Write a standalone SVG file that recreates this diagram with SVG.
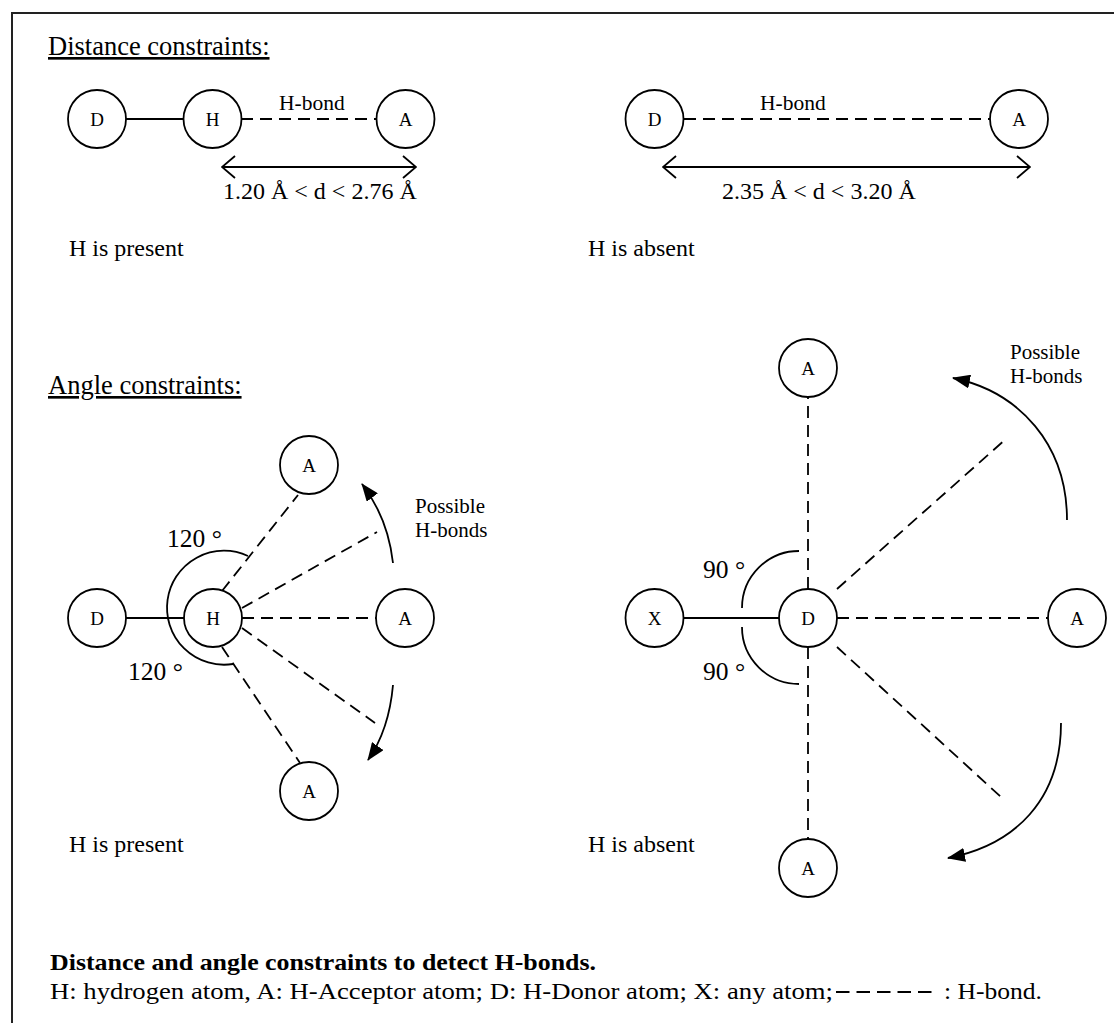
<svg xmlns="http://www.w3.org/2000/svg" width="1114" height="1023" viewBox="0 0 1114 1023">
<defs>
<style>
.t{font-family:"Liberation Serif","Times New Roman",serif;fill:#000}
.atom{fill:#fff;stroke:#000;stroke-width:1.8}
.lbl{font-size:19px;text-anchor:middle}
.solid{stroke:#000;stroke-width:1.8;fill:none}
.dash{stroke:#000;stroke-width:1.8;fill:none;stroke-dasharray:12 7}
.head{font-size:26.5px;text-decoration:underline}
</style>
<marker id="open" markerUnits="userSpaceOnUse" markerWidth="16" markerHeight="26" viewBox="0 0 16 26" refX="15" refY="13" orient="auto-start-reverse">
<path d="M2 2 L15 13 L2 24" fill="none" stroke="#000" stroke-width="1.8"/>
</marker>
<marker id="fill" markerUnits="userSpaceOnUse" markerWidth="18" markerHeight="14" viewBox="0 0 18 14" refX="17" refY="7" orient="auto">
<path d="M0 0 L18 7 L0 14 z" fill="#000"/>
</marker>
</defs>
<rect width="1114" height="1023" fill="#fff"/>
<path d="M12 1023 V13 H1114" fill="none" stroke="#222" stroke-width="2"/>

<text class="t head" x="48" y="55">Distance constraints:</text>
<text class="t head" x="48" y="394">Angle constraints:</text>

<g id="connectors">
<!-- distance present -->
<line class="solid" x1="126" y1="119" x2="184" y2="119"/>
<line class="dash" x1="241" y1="119" x2="377" y2="119"/>
<line class="solid" x1="222" y1="167" x2="416" y2="167" marker-start="url(#open)" marker-end="url(#open)"/>
<!-- distance absent -->
<line class="dash" x1="684" y1="119" x2="990" y2="119"/>
<line class="solid" x1="663" y1="167" x2="1030" y2="167" marker-start="url(#open)" marker-end="url(#open)"/>
<!-- angle present -->
<line class="solid" x1="126" y1="618" x2="184" y2="618"/>
<line class="dash" x1="222" y1="591" x2="298" y2="495"/>
<line class="dash" x1="242" y1="608" x2="377" y2="532"/>
<line class="dash" x1="242" y1="618" x2="376" y2="618"/>
<line class="dash" x1="242" y1="628" x2="375" y2="723"/>
<line class="dash" x1="222" y1="647" x2="300" y2="763"/>
<path class="solid" d="M248 556 A57 57 0 1 0 233 664"/>
<path class="solid" d="M393 563 Q388 518 362 484" marker-end="url(#fill)"/>
<path class="solid" d="M393 685 Q389 730 368 760" marker-end="url(#fill)"/>
<!-- angle absent -->
<line class="solid" x1="683" y1="618" x2="779" y2="618"/>
<line class="dash" x1="808" y1="589" x2="808" y2="397"/>
<line class="dash" x1="808" y1="647" x2="808" y2="839"/>
<line class="dash" x1="837" y1="589" x2="1007" y2="438"/>
<line class="dash" x1="837" y1="618" x2="1048" y2="618"/>
<line class="dash" x1="837" y1="647" x2="1001" y2="797"/>
<path class="solid" d="M799 551 A57 57 0 0 0 742 608"/>
<path class="solid" d="M742 627 A57 57 0 0 0 799 684"/>
<path class="solid" d="M1067 520 C1067 445 1020 392 953 378" marker-end="url(#fill)"/>
<path class="solid" d="M1061 723 C1061 800 1015 845 948 858" marker-end="url(#fill)"/>
</g>

<g id="n-d1"><circle class="atom" cx="97" cy="119" r="29"/><text class="t lbl" x="97" y="126">D</text></g>
<g id="n-h1"><circle class="atom" cx="212.5" cy="119" r="29"/><text class="t lbl" x="212.5" y="126">H</text></g>
<g id="n-a1"><circle class="atom" cx="405.5" cy="119" r="29"/><text class="t lbl" x="405.5" y="126">A</text></g>
<g id="n-d2"><circle class="atom" cx="654.5" cy="119" r="29"/><text class="t lbl" x="654.5" y="126">D</text></g>
<g id="n-a2"><circle class="atom" cx="1019" cy="119" r="29"/><text class="t lbl" x="1019" y="126">A</text></g>

<g id="n-d3"><circle class="atom" cx="97" cy="618" r="29"/><text class="t lbl" x="97" y="625">D</text></g>
<g id="n-h3"><circle class="atom" cx="213" cy="618" r="29"/><text class="t lbl" x="213" y="625">H</text></g>
<g id="n-a3top"><circle class="atom" cx="309" cy="465" r="29"/><text class="t lbl" x="309" y="472">A</text></g>
<g id="n-a3right"><circle class="atom" cx="405" cy="618" r="29"/><text class="t lbl" x="405" y="625">A</text></g>
<g id="n-a3bot"><circle class="atom" cx="309" cy="791" r="29"/><text class="t lbl" x="309" y="798">A</text></g>

<g id="n-x4"><circle class="atom" cx="654.5" cy="618" r="29"/><text class="t lbl" x="654.5" y="625">X</text></g>
<g id="n-d4"><circle class="atom" cx="808" cy="618" r="29"/><text class="t lbl" x="808" y="625">D</text></g>
<g id="n-a4top"><circle class="atom" cx="808" cy="368" r="29"/><text class="t lbl" x="808" y="375">A</text></g>
<g id="n-a4right"><circle class="atom" cx="1077" cy="618" r="29"/><text class="t lbl" x="1077" y="625">A</text></g>
<g id="n-a4bot"><circle class="atom" cx="808" cy="868" r="29"/><text class="t lbl" x="808" y="875">A</text></g>

<g id="labels">
<text class="t" x="279" y="110" font-size="21.5">H-bond</text>
<text class="t" x="760" y="110" font-size="21.5">H-bond</text>
<text class="t" x="223" y="199" font-size="24">1.20 Å &lt; d &lt; 2.76 Å</text>
<text class="t" x="722" y="199" font-size="24">2.35 Å &lt; d &lt; 3.20 Å</text>
<text class="t" x="69" y="256" font-size="24">H is present</text>
<text class="t" x="588" y="256" font-size="24">H is absent</text>
<text class="t" x="167" y="547" font-size="25.5">120 °</text>
<text class="t" x="128" y="680" font-size="25.5">120 °</text>
<text class="t" x="415" y="513" font-size="21">Possible</text>
<text class="t" x="415" y="537" font-size="21">H-bonds</text>
<text class="t" x="1010" y="359" font-size="21">Possible</text>
<text class="t" x="1010" y="383" font-size="21">H-bonds</text>
<text class="t" x="703" y="578" font-size="25.5">90 °</text>
<text class="t" x="703" y="680" font-size="25.5">90 °</text>
<text class="t" x="69" y="852" font-size="24">H is present</text>
<text class="t" x="588" y="852" font-size="24">H is absent</text>
</g>

<g id="caption">
<text class="t" x="50" y="970" font-size="23.5" font-weight="bold" textLength="546" lengthAdjust="spacingAndGlyphs">Distance and angle constraints to detect H-bonds.</text>
<text class="t" x="50" y="999" font-size="23.5" textLength="783" lengthAdjust="spacingAndGlyphs">H: hydrogen atom, A: H-Acceptor atom; D: H-Donor atom; X: any atom;</text>
<line x1="836" y1="992" x2="933" y2="992" stroke="#000" stroke-width="2.2" stroke-dasharray="13.5 7"/>
<text class="t" x="944" y="999" font-size="23.5" textLength="98" lengthAdjust="spacingAndGlyphs">: H-bond.</text>
</g>
</svg>
